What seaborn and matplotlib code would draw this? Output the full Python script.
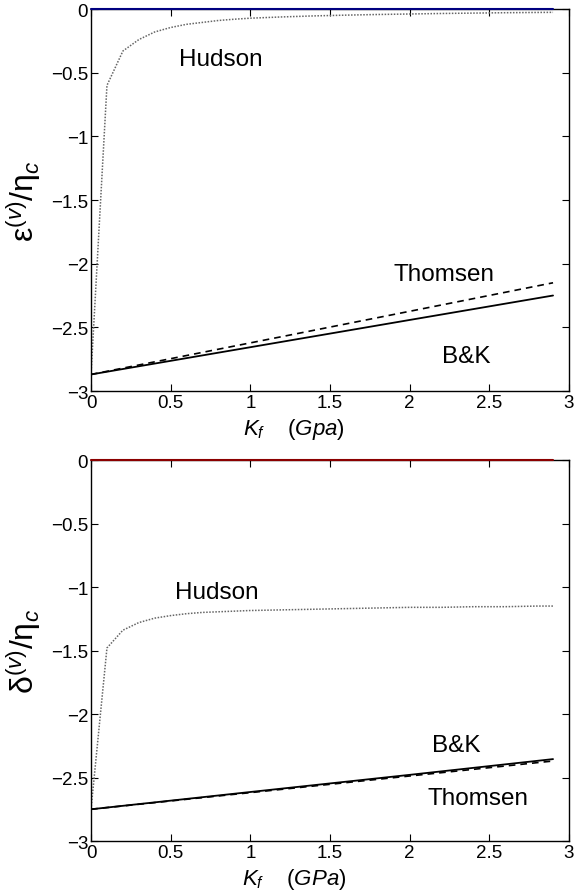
import numpy as np
import pandas as pd
import matplotlib
matplotlib.use('Agg')
import matplotlib.pyplot as plt
import seaborn as sns

# ---------------------------------------------------------------
# data (K_f in GPa)
kf_grid = [0.0, 0.1, 0.2, 0.3, 0.4, 0.5, 0.6, 0.7, 0.8, 0.9, 1.0,
           1.2, 1.4, 1.6, 1.8, 2.0, 2.2, 2.4, 2.6, 2.8, 2.9]
kf_line = [0.0, 1.0, 2.0, 2.9]

# epsilon^(v)/eta_c
eps_hudson = [-2.87, -0.60, -0.33, -0.24, -0.18, -0.145, -0.12, -0.105, -0.09, -0.08, -0.072,
              -0.062, -0.054, -0.048, -0.043, -0.039, -0.035, -0.032, -0.029, -0.027, -0.026]
eps_bk = [-2.87, -2.656, -2.442, -2.25]
eps_thomsen = [-2.87, -2.622, -2.374, -2.15]
eps_dry = [0.0, 0.0, 0.0, 0.0]

# delta^(v)/eta_c
del_hudson = [-2.75, -1.48, -1.34, -1.28, -1.245, -1.225, -1.21, -1.20, -1.195, -1.19, -1.185,
              -1.18, -1.175, -1.17, -1.165, -1.16, -1.16, -1.155, -1.155, -1.15, -1.15]
del_bk = [-2.75, -2.614, -2.479, -2.355]
del_thomsen = [-2.75, -2.619, -2.488, -2.37]
del_dry = [0.0, 0.0, 0.0, 0.0]

# ---------------------------------------------------------------
sns.set_style('ticks')
plt.rcParams['font.family'] = ['Liberation Sans', 'DejaVu Sans']
plt.rcParams['mathtext.fontset'] = 'custom'
plt.rcParams['mathtext.rm'] = 'Liberation Sans'
plt.rcParams['mathtext.it'] = 'Liberation Sans:italic'
plt.rcParams['mathtext.bf'] = 'Liberation Sans:bold'

fig = plt.figure(figsize=(5.85, 8.95), dpi=100)
ax1 = fig.add_axes([0.1556, 0.562, 0.817, 0.4268])
ax2 = fig.add_axes([0.1556, 0.0592, 0.817, 0.4257])

hud_kw = dict(color='0.4', lw=1.1, linestyle=(0, (1, 1.0)))
bk_kw = dict(color='k', lw=1.3, linestyle='-')
th_kw = dict(color='k', lw=1.2, linestyle=(0, (4, 3)))
txt_kw = dict(fontsize=17.5, color='k')


def style_axes(ax, xlabel, ylabel):
    ax.set_xlim(0, 3)
    ax.set_ylim(-3, 0)
    ax.set_xticks(np.arange(0, 3.01, 0.5))
    ax.set_yticks(np.arange(-3, 0.01, 0.5))
    ax.set_xticklabels(['0', '0.5', '1', '1.5', '2', '2.5', '3'])
    ax.set_yticklabels(['\u22123', '\u22122.5', '\u22122', '\u22121.5', '\u22121', '\u22120.5', '0'])
    ax.tick_params(direction='in', length=5, width=0.8, labelsize=13.5,
                   top=True, right=True, pad=2, colors='k')
    for s in ax.spines.values():
        s.set_linewidth(1.0)
        s.set_color('k')
        s.set_visible(True)
    ax.set_xlabel(xlabel, fontsize=16, color='k')
    ax.xaxis.set_label_coords(0.425, -0.065)
    ax.set_ylabel(ylabel, fontsize=23, color='k')
    ax.yaxis.set_label_coords(-0.101, 0.5)


# top panel
sns.lineplot(x=kf_line, y=eps_dry, ax=ax1, color='#000080', lw=1.5, clip_on=False, zorder=5)
sns.lineplot(x=kf_grid, y=eps_hudson, ax=ax1, **hud_kw)
sns.lineplot(x=kf_line, y=eps_thomsen, ax=ax1, **th_kw)
sns.lineplot(x=kf_line, y=eps_bk, ax=ax1, **bk_kw)
ax1.text(0.55, -0.44, 'Hudson', **txt_kw)
ax1.text(1.9, -2.13, 'Thomsen', **txt_kw)
ax1.text(2.2, -2.77, 'B&K', **txt_kw)
style_axes(ax1, r'$K_f$    $(Gpa)$', r'$\mathrm{\varepsilon}^{(v)}/\mathrm{\eta}_c$')

# bottom panel
sns.lineplot(x=kf_line, y=del_dry, ax=ax2, color='#8b0000', lw=1.5, clip_on=False, zorder=5)
sns.lineplot(x=kf_grid, y=del_hudson, ax=ax2, **hud_kw)
sns.lineplot(x=kf_line, y=del_thomsen, ax=ax2, **th_kw)
sns.lineplot(x=kf_line, y=del_bk, ax=ax2, **bk_kw)
ax2.text(0.53, -1.09, 'Hudson', **txt_kw)
ax2.text(2.14, -2.295, 'B&K', **txt_kw)
ax2.text(2.11, -2.71, 'Thomsen', **txt_kw)
style_axes(ax2, r'$K_f$    $(GPa)$', r'$\mathrm{\delta}^{(v)}/\mathrm{\eta}_c$')

fig.savefig('out.png', dpi=100)
